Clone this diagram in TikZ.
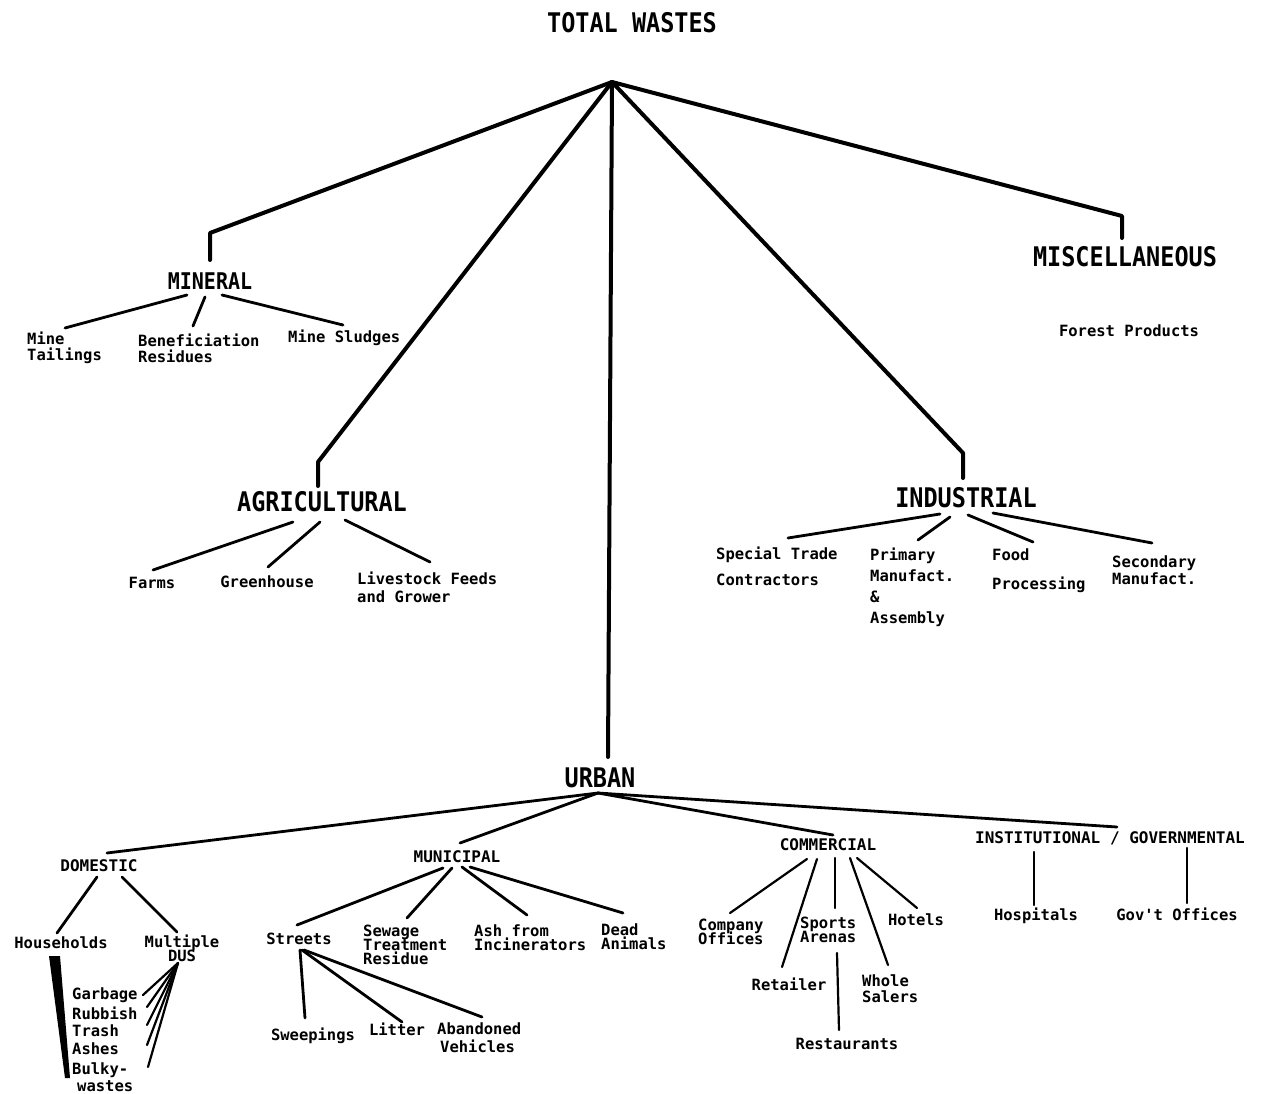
\documentclass[tikz,border=0pt]{standalone}
\usepackage{fontspec}
\newfontfamily\monof{DejaVu Sans Mono}
\newcommand\ml[2]{\vtop{\baselineskip=#1pt\lineskiplimit=-100pt\lineskip=0pt\halign{##\hfil\cr#2\crcr}}}
\newcommand\mlc[2]{\vtop{\baselineskip=#1pt\lineskiplimit=-100pt\lineskip=0pt\halign{\hfil##\hfil\cr#2\crcr}}}
\newcommand\tallhd[1]{\scalebox{1}[1.15]{#1}}
\tikzset{
  hd/.style={font=\monof\bfseries\fontsize{23.5}{26}\selectfont, inner sep=0pt},
  mn/.style={font=\monof\bfseries\fontsize{20}{22}\selectfont, inner sep=0pt},
  sb/.style={font=\monof\bfseries\fontsize{16}{18}\selectfont, inner sep=0pt},
  lc/.style={font=\monof\bfseries\fontsize{15.5}{17}\selectfont, inner sep=0pt},
  lb/.style={font=\monof\bfseries\fontsize{15.5}{17}\selectfont, inner sep=0pt, anchor=west},
  main/.style={line width=4pt, line join=round, line cap=round},
  br/.style={line width=2.8pt, line cap=round},
  thn/.style={line width=2.2pt, line cap=round},
}
\begin{document}
\begin{tikzpicture}[x=1pt,y=-1pt]
\path[use as bounding box, fill=white] (0,0) rectangle (1268,1094);

% ---------- top level ----------
\node[hd] (tw) at (632,23) {\tallhd{TOTAL WASTES}};
\coordinate (apex) at (612,82);
\coordinate (minE) at (210,233);
\coordinate (agrE) at (318,462);
\coordinate (indE) at (963,453);
\coordinate (misE) at (1122,216);

\node[mn] (min) at (210,281) {\tallhd{MINERAL}};
\node[hd] (agr) at (322,502) {\tallhd{AGRICULTURAL}};
\node[hd] (ind) at (966,498) {\tallhd{INDUSTRIAL}};
\node[hd] (mis) at (1125,257) {\tallhd{MISCELLANEOUS}};
\node[hd] (urb) at (600,778) {\tallhd{URBAN}};

\draw[main] (apex) -- (minE) -- ([shift={(0,-21)}]min.center);
\draw[main] (apex) -- (agrE) -- ([shift={(-4,-16)}]agr.center);
\draw[main] (apex) -- ([shift={(8,-21)}]urb.center);
\draw[main] (apex) -- (indE) -- ([shift={(-3,-20)}]ind.center);
\draw[main] (apex) -- (misE) -- ([shift={(-3,-19)}]mis.center);

% ---------- mineral ----------
\node[lb] (mt) at (27,348) {\ml{16}{Mine\cr Tailings}};
\node[lb] (bf) at (138,348) {\ml{16}{Beneficiation\cr Residues}};
\node[lb] (ms) at (288,338) {Mine Sludges};
\draw[br] ([shift={(-23,14)}]min.center) -- ([shift={(38,-20)}]mt.west);
\draw[br] ([shift={(-5,16)}]min.center) -- ([shift={(55,-22)}]bf.west);
\draw[br] ([shift={(12,14)}]min.center) -- ([shift={(55,-13)}]ms.west);

% ---------- agricultural ----------
\node[lc] (fa) at (152,583) {Farms};
\node[lc] (gh) at (267,582) {Greenhouse};
\node[lb] (lv) at (357,587) {\ml{18}{Livestock Feeds\cr and Grower}};
\draw[br] ([shift={(-29,20)}]agr.center) -- ([shift={(1,-13)}]fa.center);
\draw[br] ([shift={(-2,20)}]agr.center) -- ([shift={(1,-15)}]gh.center);
\draw[br] ([shift={(23,18)}]agr.center) -- ([shift={(73,-25)}]lv.west);

% ---------- industrial ----------
\node[lb] (st) at (716,566) {\ml{26}{Special Trade\cr Contractors}};
\node[lb] (pr) at (870,587) {\ml{21}{Primary\cr Manufact.\cr \&\cr Assembly}};
\node[lb] (fd) at (992,571) {\ml{29}{Food\cr Processing}};
\node[lb] (sc) at (1112,570) {\ml{17}{Secondary\cr Manufact.}};
\draw[br] ([shift={(-26,16)}]ind.center) -- ([shift={(72,-28)}]st.west);
\draw[br] ([shift={(-16,19)}]ind.center) -- ([shift={(48,-47)}]pr.west);
\draw[br] ([shift={(2,17)}]ind.center) -- ([shift={(41,-29)}]fd.west);
\draw[br] ([shift={(27,15)}]ind.center) -- ([shift={(40,-27)}]sc.west);

% ---------- miscellaneous ----------
\node[lc] (fp) at (1129,331) {Forest Products};

% ---------- urban ----------
\node[sb] (dom) at (99,866) {DOMESTIC};
\node[sb] (mun) at (457,857) {MUNICIPAL};
\node[sb] (com) at (828,845) {COMMERCIAL};
\node[sb] (ins) at (1110,838) {INSTITUTIONAL / GOVERNMENTAL};
\draw[br] ([shift={(-2,15)}]urb.center) -- ([shift={(8,-13)}]dom.center);
\draw[br] ([shift={(-2,15)}]urb.center) -- ([shift={(3,-14)}]mun.center);
\draw[br] ([shift={(-2,15)}]urb.center) -- ([shift={(5,-10)}]com.center);
\draw[br] ([shift={(-2,15)}]urb.center) -- ([shift={(7,-11)}]ins.center);

% domestic
\node[lc] (hh) at (61,943) {Households};
\node[lc] (mu) at (182,948) {\mlc{14}{Multiple\cr DUS}};
\node[lb] (ga) at (72,995) {Garbage};
\node[lb] (ru) at (72,1013) {Rubbish};
\node[lb] (tr) at (72,1031) {Trash};
\node[lb] (as) at (72,1049) {Ashes};
\node[lb] (bk) at (72,1077) {\ml{17}{Bulky-\cr \hspace*{5pt}wastes}};
\draw[br] ([shift={(-2,11)}]dom.center) -- ([shift={(-4,-10)}]hh.center);
\draw[br] ([shift={(23,11)}]dom.center) -- ([shift={(-5,-16)}]mu.center);
% heavy wedge from Households down past its items
\fill ([shift={(-12,13)}]hh.center) -- ([shift={(-1,13)}]hh.center)
      -- ([shift={(-2,1)}]bk.west) -- ([shift={(-7,1)}]bk.west) -- cycle;
\draw[thn] ([shift={(-4,15)}]mu.center) -- ([shift={(71,0)}]ga.west);
\draw[thn] ([shift={(-4,15)}]mu.center) -- ([shift={(75,-6)}]ru.west);
\draw[thn] ([shift={(-4,15)}]mu.center) -- ([shift={(75,-6)}]tr.west);
\draw[thn] ([shift={(-4,15)}]mu.center) -- ([shift={(75,-4)}]as.west);
\draw[thn] ([shift={(-4,15)}]mu.center) -- ([shift={(76,-10)}]bk.west);

% municipal
\node[lc] (sts) at (299,939) {Streets};
\node[lb] (sw) at (363,945) {\ml{14}{Sewage\cr Treatment\cr Residue}};
\node[lb] (ash) at (474,938) {\ml{14}{Ash from\cr Incinerators}};
\node[lb] (dd) at (601,937) {\ml{14}{Dead\cr Animals}};
\draw[br] ([shift={(-14,11)}]mun.center) -- ([shift={(-2,-14)}]sts.center);
\draw[br] ([shift={(-5,11)}]mun.center) -- ([shift={(44,-27)}]sw.west);
\draw[br] ([shift={(5,10)}]mun.center) -- ([shift={(53,-23)}]ash.west);
\draw[br] ([shift={(13,10)}]mun.center) -- ([shift={(22,-24)}]dd.west);

\node[lc] (swp) at (313,1036) {Sweepings};
\node[lc] (lit) at (397,1029) {Litter};
\node[lb] (ab) at (437,1038) {\ml{18}{Abandoned\cr \hspace*{3pt}Vehicles}};
\draw[br] ([shift={(1,11)}]sts.center) -- ([shift={(-8,-18)}]swp.center);
\draw[br] ([shift={(3,11)}]sts.center) -- ([shift={(5,-7)}]lit.center);
\draw[br] ([shift={(5,11)}]sts.center) -- ([shift={(45,-21)}]ab.west);

% commercial
\node[lb] (co) at (698,932) {\ml{14}{Company\cr Offices}};
\node[lb] (sp) at (800,930) {\ml{14}{Sports\cr Arenas}};
\node[lc] (ht) at (916,920) {Hotels};
\node[lc] (rt) at (789,984) {Retailer};
\node[lb] (wh) at (862,989) {\ml{16}{Whole\cr Salers}};
\node[lc] (rs) at (847,1044) {Restaurants};
\draw[thn] ([shift={(-21,14)}]com.center) -- ([shift={(32,-19)}]co.west);
\draw[thn] ([shift={(-11,14)}]com.center) -- ([shift={(-7,-17)}]rt.center);
\draw[thn] ([shift={(7,13)}]com.center) -- ([shift={(35,-22)}]sp.west);
\draw[thn] ([shift={(22,13)}]com.center) -- ([shift={(26,-24)}]wh.west);
\draw[thn] ([shift={(29,13)}]com.center) -- ([shift={(1,-12)}]ht.center);
\draw[thn] ([shift={(37,23)}]sp.west) -- ([shift={(-8,-14)}]rs.center);

% institutional
\node[lc] (hs) at (1036,916) {Hospitals};
\node[lc] (go) at (1177,914) {Gov't Offices};
\draw[thn] ([shift={(-76,14)}]ins.center) -- ([shift={(-2,-11)}]hs.center);
\draw[thn] ([shift={(77,10)}]ins.center) -- ([shift={(10,-11)}]go.center);
\end{tikzpicture}
\end{document}
